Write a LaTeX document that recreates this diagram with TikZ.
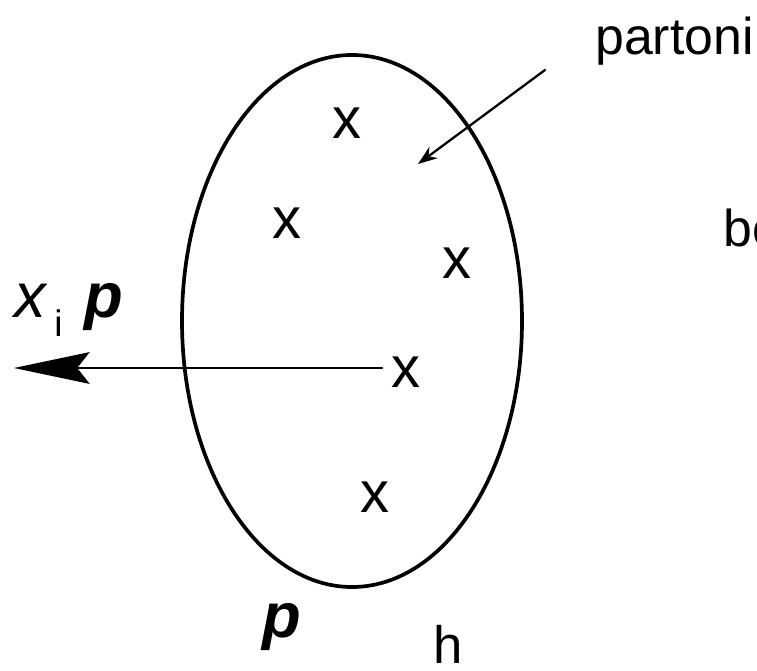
\documentclass[tikz,border=0pt]{standalone}
\usepackage{fontspec}
\setmainfont{Liberation Sans}
\usetikzlibrary{arrows.meta}

\begin{document}
\begin{tikzpicture}[
  x=0.02cm, y=-0.02cm,
  line cap=round,
  line join=round,
  every node/.style={inner sep=0pt},
  partmark/.style={font=\fontsize{33}{36}\selectfont},
  biglabel/.style={font=\fontsize{29.5}{32}\selectfont}
]
  \useasboundingbox (0,0) rectangle (757,671);

  % Adrone
  \draw[line width=2.1pt] (352,321) ellipse [x radius=170, y radius=266];

  % Partoni dentro l'adrone
  \node[partmark] (x1) at (347,123) {x};
  \node[partmark] (x2) at (287,223) {x};
  \node[partmark] (x3) at (457,263) {x};
  \node[partmark] (x4) at (406,372) {x};
  \node[partmark] (x5) at (375,497) {x};

  % Impulso del partone
  \coordinate (pstart) at (382,368);
  \coordinate (ptip) at (14,368);
  \draw[line width=1.5pt, -{Stealth[length=43pt,width=18pt,inset=7pt]}]
    (pstart) -- (ptip);
  \node[anchor=base west, font=\fontsize{36}{40}\selectfont\itshape]
    (xi) at (14,318) {x};
  \node[anchor=base west, font=\fontsize{21}{24}\selectfont]
    (isub) at (54,337) {i};
  \node[anchor=base west, font=\fontsize{36}{40}\selectfont\bfseries\itshape]
    (pxi) at (84,318) {p};

  % Etichette a destra
  \node[biglabel, anchor=base west] (partoni) at (595,55) {partoni};
  \coordinate (arrstart) at (545,70);
  \coordinate (arrtip) at (418,164);
  \draw[line width=1.3pt, -{Stealth[length=11pt,width=8pt]}]
    (arrstart) -- (arrtip);
  \node[biglabel, anchor=base west] (bo) at (723,247) {bo};

  % Impulso dell'adrone
  \node[anchor=base west, font=\fontsize{36}{40}\selectfont\bfseries\itshape]
    (ph) at (262,638) {p};
  \node[anchor=north west, font=\fontsize{30}{32}\selectfont]
    (hsub) at (433,625) {h};
\end{tikzpicture}
\end{document}
